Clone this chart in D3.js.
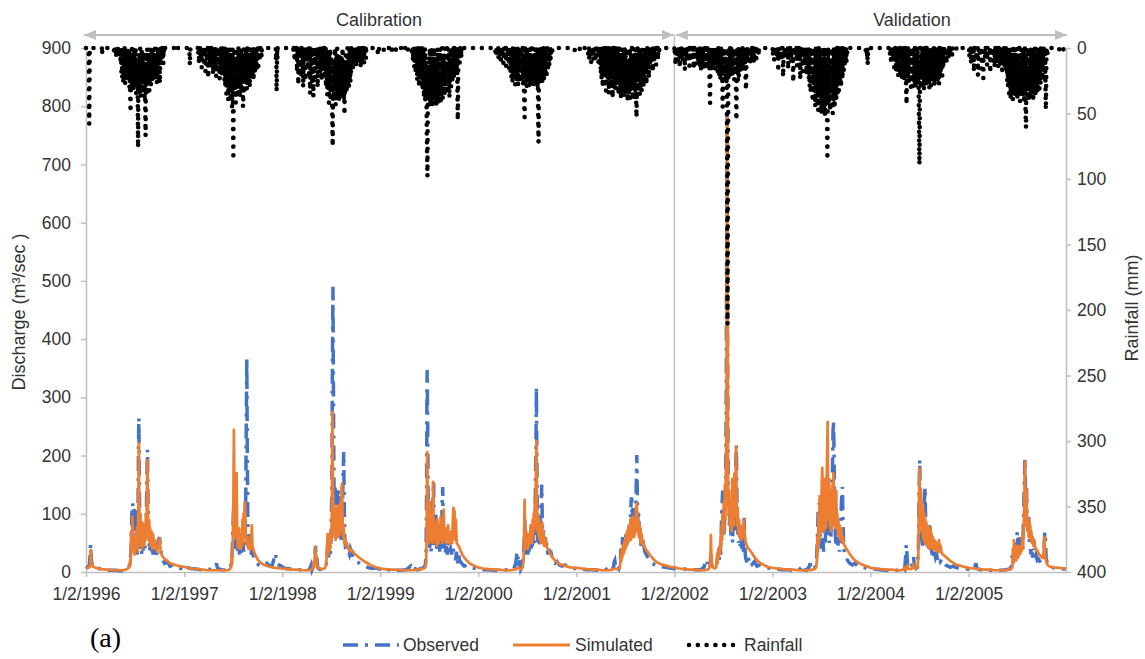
<!DOCTYPE html>
<html><head><meta charset="utf-8">
<script src="https://cdn.jsdelivr.net/npm/d3@7"></script>
<style>
body{margin:0;background:#fff;}
svg{display:block;font-family:"Liberation Sans",Arial,sans-serif;}
</style></head><body>
<svg id="c" width="1145" height="659"></svg>
<script>
// ---------- DATA ----------
const years = [1996,1997,1998,1999,2000,2001,2002,2003,2004,2005];
const xTickLabels = years.map(y => `1/2/${y}`);
const yLeftTicks = [0,100,200,300,400,500,600,700,800,900];
const yRightTicks = [0,50,100,150,200,250,300,350,400];
const periods = [["Calibration","1996-01-02","2002-01-02"],["Validation","2002-01-02","2005-12-31"]];
const legendItems = ["Observed","Simulated","Rainfall"];

// discharge, [day of year, m3/s]
const sim1996 = [[2,8],[10,7],[17,9],[20,38],[23,15],[28,9],[40,7],[60,5],[80,4],[100,3],[120,3],[140,3],[150,4],[158,6],[163,8],[166,20],[168,12],[170,70],[172,35],[175,95],[177,40],[180,60],[183,30],[186,50],[189,42],[192,78],[195,35],[197,120],[199,221],[201,90],[203,55],[205,100],[207,45],[209,70],[211,40],[213,85],[215,50],[217,65],[219,45],[221,80],[223,55],[225,100],[227,60],[229,140],[231,192],[233,80],[235,55],[237,90],[239,50],[241,75],[243,45],[246,70],[249,40],[252,65],[255,45],[258,55],[262,40],[266,35],[270,42],[274,55],[277,58],[280,35],[285,28],[292,24],[300,20],[310,17],[320,14],[335,12],[350,10],[365,9]];
const obs1996 = [[2,10],[8,8],[15,12],[19,48],[22,20],[27,10],[35,8],[50,6],[70,4],[90,3],[110,3],[130,2],[145,3],[155,5],[162,10],[166,15],[170,40],[173,100],[176,118],[178,60],[181,110],[184,70],[187,105],[190,40],[193,30],[196,120],[198,238],[199,265],[201,140],[203,40],[206,60],[209,30],[212,55],[215,35],[218,70],[221,40],[224,60],[227,100],[229,170],[231,210],[233,120],[236,60],[239,35],[242,50],[245,30],[248,45],[252,30],[256,40],[260,30],[264,25],[268,45],[272,55],[276,60],[279,45],[283,30],[288,20],[295,15],[305,18],[315,10],[325,12],[340,8],[355,6],[365,10]];
const sim1997 = [[1,9],[15,7],[30,6],[50,5],[70,4],[90,3],[110,3],[130,3],[150,3],[165,3],[172,5],[176,8],[179,30],[181,15],[183,60],[185,120],[187,244],[189,90],[191,60],[193,110],[195,60],[197,170],[199,70],[201,45],[203,60],[205,40],[207,75],[209,45],[211,55],[213,40],[215,65],[217,45],[219,90],[221,50],[223,100],[225,70],[227,120],[229,115],[231,60],[233,55],[236,45],[239,60],[242,40],[245,50],[248,38],[251,55],[254,80],[256,45],[259,40],[263,34],[268,28],[275,22],[285,16],[300,12],[320,9],[340,7],[365,6]];
const obs1997 = [[1,12],[10,8],[25,6],[45,5],[65,4],[85,4],[105,5],[118,8],[122,15],[126,6],[140,4],[160,3],[172,5],[176,12],[179,20],[182,50],[185,100],[188,120],[191,40],[194,110],[197,60],[200,35],[204,50],[208,30],[212,40],[216,30],[220,50],[224,35],[228,60],[231,120],[233,250],[235,367],[237,200],[239,80],[242,50],[245,35],[248,45],[251,30],[254,40],[258,30],[262,25],[266,20],[272,15],[280,12],[290,10],[300,12],[310,15],[320,10],[330,12],[338,25],[342,32],[346,15],[355,12],[365,10]];
const sim1998 = [[1,6],[20,5],[40,4],[60,4],[80,3],[100,3],[110,4],[115,6],[118,15],[120,8],[123,25],[125,43],[127,20],[129,30],[131,12],[135,8],[140,6],[150,5],[160,6],[166,12],[169,40],[171,65],[173,30],[175,60],[177,35],[179,65],[181,40],[183,70],[185,55],[187,110],[189,275],[191,150],[193,70],[195,115],[197,60],[199,100],[201,55],[203,110],[205,70],[207,105],[209,60],[211,115],[213,75],[215,100],[217,65],[219,120],[221,80],[223,145],[225,152],[227,90],[229,60],[231,80],[233,50],[236,60],[239,45],[243,50],[247,40],[251,42],[255,35],[260,38],[275,30],[290,24],[305,19],[320,15],[335,11],[350,8],[365,6]];
const obs1998 = [[1,8],[15,6],[35,5],[55,4],[75,4],[95,3],[105,6],[110,12],[113,4],[118,10],[121,5],[124,30],[126,45],[128,15],[131,25],[134,8],[140,5],[155,4],[165,8],[169,30],[172,55],[175,25],[178,45],[181,30],[184,60],[187,150],[189,350],[191,490],[193,300],[195,140],[197,120],[199,145],[201,110],[203,140],[205,130],[207,145],[209,120],[211,140],[213,90],[215,130],[217,60],[219,110],[221,50],[223,70],[226,100],[229,170],[231,206],[233,120],[235,60],[238,40],[241,35],[244,45],[248,35],[252,30],[256,40],[260,35],[265,25],[272,22],[280,18],[290,15],[300,12],[310,10],[320,8],[335,6],[350,7],[365,5]];
const sim1999 = [[1,6],[20,5],[40,4],[60,4],[80,3],[100,3],[120,3],[140,4],[155,5],[165,6],[170,8],[173,15],[175,60],[177,206],[179,120],[181,60],[183,90],[185,50],[187,120],[189,60],[191,100],[193,55],[195,85],[197,50],[199,155],[201,70],[203,90],[205,55],[207,80],[209,50],[211,75],[213,45],[215,90],[217,55],[219,70],[221,50],[223,80],[225,55],[227,95],[229,60],[231,75],[233,50],[235,85],[237,55],[239,107],[241,60],[243,70],[246,50],[249,75],[252,55],[255,80],[258,50],[261,60],[264,48],[267,70],[270,50],[273,95],[275,110],[277,60],[279,105],[281,55],[284,90],[287,50],[290,48],[293,45],[297,42],[302,36],[310,28],[320,22],[335,15],[350,11],[365,8]];
const obs1999 = [[1,6],[20,4],[40,4],[60,3],[80,3],[100,4],[115,10],[118,4],[130,3],[140,12],[143,4],[155,6],[165,8],[170,12],[173,30],[175,150],[176,300],[177,347],[179,250],[181,100],[183,60],[186,40],[189,60],[192,35],[195,50],[198,120],[201,155],[203,80],[206,45],[209,100],[212,40],[215,60],[218,35],[221,50],[224,35],[227,60],[230,40],[233,120],[235,146],[237,70],[240,40],[243,55],[246,30],[249,45],[252,30],[256,50],[260,35],[264,40],[268,30],[272,45],[276,35],[280,30],[283,20],[286,35],[290,15],[294,30],[298,20],[305,15],[315,10],[325,12],[340,8],[355,6],[365,5]];
const sim2000 = [[1,8],[20,6],[40,5],[60,4],[80,4],[100,3],[120,3],[135,4],[145,5],[150,8],[155,6],[162,5],[168,8],[171,20],[173,60],[175,124],[177,50],[179,40],[181,70],[183,45],[185,55],[187,40],[189,65],[191,45],[193,60],[195,50],[197,80],[199,55],[201,70],[203,50],[205,90],[207,60],[209,100],[211,70],[213,120],[215,80],[217,160],[219,225],[221,110],[223,70],[225,100],[227,60],[229,90],[231,55],[233,80],[235,50],[237,75],[239,55],[241,85],[243,50],[245,70],[247,45],[249,60],[252,45],[255,55],[258,42],[262,40],[266,36],[272,30],[280,24],[290,19],[300,15],[315,12],[330,10],[345,8],[366,7]];
const obs2000 = [[1,5],[20,4],[40,4],[60,3],[80,3],[100,4],[120,3],[135,6],[142,15],[146,30],[149,35],[152,10],[158,20],[161,5],[166,10],[170,25],[173,50],[176,90],[178,40],[181,30],[184,55],[187,30],[190,45],[193,35],[196,60],[199,40],[202,55],[205,40],[208,70],[211,50],[214,100],[217,200],[219,318],[221,180],[223,60],[226,45],[229,70],[232,45],[235,100],[237,120],[239,150],[241,80],[243,55],[246,72],[249,45],[252,60],[255,40],[258,50],[262,30],[266,40],[270,25],[275,30],[280,20],[288,15],[296,18],[305,12],[315,10],[325,12],[340,8],[355,6],[366,6]];
const sim2001 = [[1,7],[20,6],[40,5],[60,4],[80,4],[100,3],[120,3],[135,4],[145,6],[155,5],[162,6],[165,12],[167,30],[169,18],[171,40],[173,25],[175,45],[177,30],[179,50],[181,35],[183,55],[185,40],[187,65],[189,45],[191,70],[193,50],[195,75],[197,55],[199,80],[201,60],[203,90],[205,55],[207,85],[209,60],[211,95],[213,65],[215,80],[217,60],[219,90],[221,65],[223,100],[225,110],[227,118],[229,85],[231,70],[233,90],[235,60],[237,80],[239,55],[241,75],[243,50],[245,65],[247,48],[250,55],[253,45],[257,42],[262,38],[268,34],[275,30],[285,24],[295,19],[305,16],[320,13],[335,11],[350,9],[365,8]];
const obs2001 = [[1,6],[20,5],[40,4],[60,4],[80,3],[100,3],[115,5],[125,8],[135,12],[140,6],[143,18],[145,20],[148,8],[155,10],[160,6],[165,15],[168,40],[171,25],[174,60],[177,35],[180,55],[183,40],[186,65],[189,45],[192,70],[195,50],[198,85],[201,60],[204,100],[206,124],[208,128],[210,90],[213,110],[216,75],[219,95],[222,70],[225,150],[227,201],[229,130],[231,80],[234,100],[237,60],[240,75],[243,45],[246,60],[249,40],[253,45],[257,35],[262,30],[268,25],[275,20],[285,15],[295,12],[305,10],[320,9],[335,8],[350,7],[365,6]];
const sim2002 = [[1,8],[20,6],[40,5],[60,4],[80,4],[100,3],[115,3],[125,4],[132,6],[136,20],[138,64],[140,25],[143,10],[150,6],[158,8],[161,30],[163,15],[166,40],[168,25],[170,35],[172,30],[174,60],[176,40],[178,80],[180,55],[182,100],[184,65],[186,120],[188,70],[190,150],[192,90],[194,180],[196,250],[198,780],[200,500],[202,160],[204,100],[206,140],[208,80],[210,120],[212,75],[214,110],[216,70],[218,160],[220,100],[222,130],[224,80],[226,170],[228,110],[230,150],[232,215],[234,120],[236,80],[238,110],[240,65],[243,90],[246,60],[249,80],[252,55],[255,75],[258,60],[261,90],[263,70],[266,55],[270,48],[275,42],[282,38],[290,33],[300,26],[310,20],[320,16],[335,12],[350,9],[365,7]];
const obs2002 = [[1,7],[20,6],[40,5],[60,4],[80,4],[100,4],[112,8],[116,15],[120,10],[124,17],[128,6],[135,10],[138,30],[141,12],[150,6],[158,10],[162,20],[166,35],[169,20],[172,45],[175,30],[178,100],[180,118],[182,140],[184,80],[187,60],[190,100],[193,140],[195,280],[197,600],[198,790],[200,450],[202,200],[204,120],[207,80],[210,110],[213,60],[216,90],[219,50],[222,120],[225,70],[228,140],[231,190],[233,218],[235,130],[238,70],[241,50],[244,75],[247,45],[250,60],[253,40],[256,55],[259,35],[262,93],[264,50],[267,25],[270,20],[274,15],[278,25],[282,10],[290,12],[300,18],[310,10],[320,12],[335,8],[350,7],[365,6]];
const sim2003 = [[1,7],[20,6],[40,5],[60,4],[80,4],[100,3],[120,3],[140,3],[150,4],[160,5],[165,8],[168,20],[170,60],[172,35],[174,100],[176,50],[178,130],[180,60],[182,110],[184,70],[186,150],[188,179],[190,80],[192,140],[194,70],[196,160],[198,90],[200,130],[202,75],[204,150],[206,200],[208,258],[210,120],[212,90],[214,160],[216,80],[218,140],[220,70],[222,130],[224,85],[226,150],[228,80],[230,170],[232,90],[234,120],[236,75],[238,130],[240,140],[242,80],[244,100],[246,65],[248,90],[250,60],[253,80],[256,55],[259,75],[262,50],[265,60],[268,48],[272,45],[278,40],[285,35],[295,28],[305,22],[315,18],[330,14],[345,11],[365,8]];
const obs2003 = [[1,6],[20,5],[40,4],[60,4],[80,3],[100,3],[110,8],[114,12],[118,4],[130,3],[140,10],[143,15],[146,4],[155,5],[163,10],[167,25],[170,60],[173,110],[176,118],[178,90],[181,60],[184,40],[187,100],[190,60],[193,35],[196,80],[199,45],[202,100],[205,60],[208,140],[211,80],[214,50],[217,90],[220,60],[223,120],[226,180],[228,240],[230,260],[232,200],[234,100],[237,60],[240,45],[243,80],[246,40],[249,60],[252,35],[255,70],[258,100],[261,140],[263,146],[265,90],[268,40],[272,30],[276,25],[282,20],[290,15],[300,12],[310,15],[320,10],[335,8],[350,7],[365,6]];
const sim2004 = [[1,7],[20,6],[40,5],[60,4],[80,4],[100,3],[115,3],[125,4],[128,8],[131,5],[135,4],[140,12],[143,6],[150,5],[158,6],[162,14],[165,8],[170,6],[178,8],[181,30],[183,120],[185,178],[187,120],[189,80],[191,140],[193,70],[195,120],[197,60],[199,110],[201,55],[203,100],[205,50],[207,90],[209,50],[211,85],[213,45],[215,80],[217,45],[219,77],[221,40],[223,70],[225,45],[227,75],[229,40],[231,65],[233,42],[235,60],[237,40],[240,55],[243,38],[246,52],[249,36],[252,48],[255,34],[258,55],[261,35],[264,45],[268,32],[273,30],[280,27],[290,23],[300,19],[310,16],[320,13],[335,11],[350,9],[366,7]];
const obs2004 = [[1,6],[20,5],[40,4],[60,3],[80,3],[100,3],[115,4],[125,8],[130,5],[134,30],[136,47],[138,35],[141,10],[147,5],[155,8],[160,20],[163,26],[166,10],[172,6],[178,8],[181,40],[184,150],[186,193],[188,120],[191,80],[194,60],[197,40],[200,100],[203,120],[206,146],[208,90],[211,60],[214,45],[217,70],[220,40],[223,80],[226,35],[229,45],[232,30],[235,40],[238,25],[241,35],[245,25],[249,30],[253,20],[258,25],[263,18],[268,22],[275,15],[283,12],[292,10],[300,8],[310,10],[320,8],[335,6],[350,6],[366,5]];
const sim2005 = [[1,7],[20,6],[40,5],[60,4],[80,4],[100,3],[120,3],[140,3],[150,4],[160,5],[165,8],[167,40],[169,15],[171,55],[173,20],[175,45],[177,25],[180,20],[184,45],[187,25],[190,40],[193,30],[196,45],[199,35],[202,60],[205,40],[208,90],[210,130],[212,189],[214,120],[216,80],[218,141],[220,90],[222,70],[224,85],[226,60],[228,90],[230,65],[232,80],[234,55],[236,70],[238,50],[241,60],[244,45],[247,55],[250,42],[253,40],[256,38],[260,35],[265,30],[270,28],[275,25],[280,24],[285,60],[287,30],[290,20],[296,12],[305,9],[320,8],[340,7],[364,6]];
const obs2005 = [[1,6],[15,5],[25,8],[29,15],[33,6],[45,4],[60,4],[80,3],[100,3],[120,3],[140,4],[155,5],[162,10],[165,30],[168,15],[172,40],[175,20],[178,35],[181,60],[184,69],[186,45],[189,65],[192,30],[195,50],[198,35],[201,60],[204,40],[207,100],[210,160],[212,194],[214,150],[216,100],[218,144],[220,90],[223,70],[226,100],[229,50],[232,40],[235,30],[238,35],[241,25],[245,40],[249,25],[253,30],[258,20],[263,22],[268,18],[273,15],[278,20],[283,40],[286,69],[288,60],[291,25],[296,12],[305,9],[320,7],[340,6],[364,5]];

// rainfall: daily runs (mm) starting at a day of year; days not listed are 0 mm
const rain1996 = {year:1996, start:105, mm:[0,0,3,0,0,5,0,0,0,2,8,0,0,0,4,0,0,6,0,0,3,0,0,0,7,0,12,0,5,18,3,0,22,8,0,15,25,4,0,10,18,0,6,28,12,0,9,20,3,14,0,26,8,0,17,5,22,10,0,30,15,4,40,49,20,8,25,12,0,28,18,6,33,10,0,24,14,30,5,19,27,9,0,21,35,12,25,8,30,14,45,76,20,10,28,4,33,15,22,0,18,38,9,26,12,0,30,20,7,35,16,24,3,29,11,40,18,27,50,67,22,14,31,8,25,0,19,36,12,28,6,22,15,33,9,0,24,17,5,29,13,21,0,26,10,18,8,22,14,0,19,6,25,11,0,16,9,20,4,0,13,27,7,0,18,10,0,5,26,12,0,8,27,15,0,6,0,10,0,3,0,0,7,0,0,12,0,0,4,0,0]};
const rain1997 = {year:1997, start:53, mm:[0,5,0,0,12,0,0,3,0,0,0,9,0,0,15,4,0,0,0,7,0,0,11,0,0,2,0,0,18,6,0,0,0,10,0,0,4,0,23,14,0,0,6,0,0,13,0,0,8,0,0,16,0,5,0,0,20,9,0,0,12,0,3,0,17,0,0,8,22,0,0,5,14,0,0,19,7,0,0,10,0,24,6,0,0,15,0,9,0,21,0,4,0,0,18,11,0,6,14,25,0,8,30,12,0,20,35,5,16,0,28,10,22,40,6,0,18,33,14,26,0,9,38,20,5,30,12,45,24,0,15,60,82,30,8,22,36,11,0,27,16,42,7,19,31,0,13,25,10,34,18,0,24,8,29,15,38,4,20,12,33,0,22,9,27,17,6,30,45,40,14,0,26,11,35,7,19,0,28,13,23,4,32,16,0,21,10,29,5,18,25,0,12,30,8,15,0,20,9,0,22,14,0,6,18,0,11,25,0,4,15,0,20,8,0,0,12,5,0,17,0,0,9,0,3,14,0,0,6,0,0,10,0,0,4,0,0,7,0,0]};
const rain1998 = {year:1998, start:42, mm:[0,0,4,0,0,0,10,0,0,0,0,6,0,0,0,18,0,0,0,0,28,12,0,0,0,0,5,0,0,0,22,0,0,0,9,0,0,0,30,15,0,0,0,0,3,0,0,25,0,0,0,0,8,0,0,0,14,0,0,0,20,0,0,0,35,12,0,0,0,6,0,0,28,0,0,0,37,18,0,0,0,10,0,0,4,22,0,0,0,15,0,0,30,8,0,0,0,5,0,12,0,0,19,0,0,0,9,25,0,0,6,0,0,16,0,11,0,0,20,8,22,14,0,30,18,5,26,12,36,0,20,9,33,16,42,4,24,28,11,0,38,19,7,30,14,25,45,60,75,35,10,22,40,8,29,15,34,0,21,44,12,27,6,32,18,0,25,37,13,9,30,20,41,5,16,28,11,35,22,14,30,7,26,38,12,0,24,19,33,8,40,28,51,18,10,36,22,5,29,15,34,9,27,0,20,31,13,24,6,30,17,0,22,11,26,8,19,0,14,0,12,5,0,15,0,8,0,0,13,0,4,0,10,0,0,14,6,0,0,9,0,12,0,0,3,0,11,0,0,7,0,0,15,0,0,5,0,0,9,0,0,0,6,0,0,12,0,0,0,4,0,0,8,0,0,0]};
const rain1999 = {year:1999, start:120, mm:[0,4,0,0,10,0,0,6,0,15,0,0,8,0,20,3,0,0,12,0,25,0,7,0,18,0,0,30,10,0,5,22,0,14,0,28,8,0,19,0,33,12,0,26,15,38,6,20,30,0,42,18,9,35,24,50,70,85,98,60,28,14,40,22,8,33,16,0,27,45,19,36,11,25,0,30,44,13,21,38,7,29,42,16,33,0,24,40,10,35,20,45,14,28,6,38,22,0,31,17,43,9,26,36,12,0,30,19,41,8,25,34,15,0,28,39,11,22,32,5,27,18,37,0,24,13,35,20,9,30,16,0,26,12,33,7,21,0,28,15,38,4,19,25,0,13,30,9,22,0,17,27,6,14,0,20,10,24,0,8,18,0,12,5,16,0,9,20,0,14,35,55,40,10,0,6,0,0,12,0,0,5,0,0,8,0,3]};
const rain2000 = {year:2000, start:64, mm:[0,0,3,0,0,0,6,0,0,0,0,2,0,0,8,0,0,0,0,4,0,0,0,10,0,0,0,5,0,0,0,0,12,0,0,3,0,0,0,7,0,0,14,0,0,0,5,0,0,9,0,0,0,16,0,4,0,10,0,18,5,0,22,8,0,14,26,0,3,19,11,0,24,6,0,16,28,9,0,21,13,0,7,25,17,0,11,29,4,0,20,15,0,27,8,12,0,23,18,5,0,26,10,19,0,14,30,6,22,35,45,53,28,0,17,25,9,0,20,30,12,0,26,15,8,24,0,18,29,5,21,13,0,27,10,19,0,25,16,6,28,0,12,22,30,9,0,24,14,20,0,27,8,18,26,0,13,23,11,29,0,40,60,72,35,15,0,22,10,28,0,16,24,5,0,19,12,26,0,8,21,14,0,25,6,17,0,11,20,0,9,15,0,23,4,0,13,0,18,7,0,10,0,14,0,5,0,0,9,0,0,6,0,0,3,0,0]};
const rain2001 = {year:2001, start:44, mm:[0,0,5,0,0,0,8,0,0,0,3,0,0,11,0,0,0,0,6,0,0,0,9,0,0,2,0,0,0,10,0,0,0,4,0,0,0,7,0,0,11,0,0,0,5,0,0,12,0,20,6,0,25,14,0,9,30,0,18,4,0,22,11,0,27,8,0,16,33,0,13,24,0,7,19,0,28,15,0,35,10,0,21,5,26,0,17,30,0,12,23,8,0,38,14,0,20,29,6,0,24,11,32,0,18,9,26,0,21,34,13,0,27,8,19,36,0,15,25,5,30,18,0,22,39,10,26,0,14,33,20,7,28,0,17,37,11,24,0,29,16,6,35,21,0,12,31,25,8,41,30,0,23,15,34,9,27,0,19,38,13,24,5,32,18,0,26,14,36,10,22,0,29,17,40,8,25,33,0,15,28,45,53,30,12,20,0,24,9,31,16,0,27,13,35,6,21,0,29,18,8,33,0,14,25,10,0,22,30,5,17,0,26,12,0,20,8,0,15,28,0,11,0,19,6,0,14,0,23,0,9,0,0,16,0,5,0,12,0,0,8,0,0,18,0,0,4,0,10,0,0,0,6,0,0,13,0,0,0,3,0,0,9,0,0,0,5,0,0]};
const rain2002 = {year:2002, start:2, mm:[0,5,0,0,13,8,0,0,0,3,0,0,10,0,0,0,6,0,0,0,15,0,0,4,0,0,0,9,0,0,0,0,12,0,0,3,0,0,0,17,5,0,0,0,0,8,0,0,0,11,0,0,0,2,0,0,14,0,0,0,6,0,0,0,0,10,0,0,0,4,0,0,16,0,0,0,0,7,0,0,12,0,0,0,3,0,0,0,9,0,0,14,0,0,8,0,14,5,0,17,10,0,3,12,0,16,6,0,11,15,0,4,13,0,9,17,2,0,14,7,0,12,16,0,5,11,0,15,8,0,10,25,35,42,20,6,0,13,17,0,9,14,0,4,16,11,0,7,15,0,12,3,0,17,8,0,13,10,0,14,6,0,19,11,0,16,8,22,4,13,0,18,25,9,0,15,21,7,12,30,45,20,0,16,10,24,5,0,19,13,8,22,0,17,28,11,60,130,211,150,70,25,9,0,18,12,20,6,0,15,23,10,0,19,7,14,0,21,11,5,17,0,13,24,8,0,16,10,0,20,38,55,30,12,0,18,9,25,14,0,21,7,16,0,11,19,0,6,13,0,17,8,0,12,0,15,4,0,10,14,0,6,0,11,0,20,28,32,18,0,8,0,12,0,5,0,0,9,0,0,7,0,0,13,0,0,4,0,0,8,0,0,0,5,0,0,11,0,0,0,3,0,0,0,9,11,0,0,0,4,0,0,0,0,6,0,0]};
const rain2003 = {year:2003, start:2, mm:[0,0,6,0,0,0,0,12,0,0,0,3,0,0,0,0,0,8,0,0,0,0,18,0,0,0,0,0,5,0,0,0,0,0,0,10,0,0,0,0,22,14,0,0,0,0,0,3,0,0,0,0,0,7,0,0,0,0,0,16,0,0,0,0,0,4,0,0,0,0,0,11,0,0,0,0,0,20,26,8,0,0,0,0,0,0,5,0,0,0,0,0,14,0,0,0,0,0,9,0,0,0,0,0,24,0,0,0,0,6,0,0,0,0,18,0,0,0,3,0,0,0,12,0,0,0,0,20,0,0,8,0,0,0,15,0,24,8,0,30,12,0,19,35,6,0,26,14,0,22,41,33,9,0,28,16,38,0,11,24,45,7,0,31,19,40,13,0,27,36,8,48,22,0,34,15,42,26,5,39,18,0,30,50,12,25,44,0,20,37,9,46,28,0,33,17,52,11,29,40,0,24,38,14,60,82,45,19,0,26,43,10,35,21,0,48,30,15,38,7,27,44,18,0,32,50,12,24,40,0,29,16,46,22,9,36,0,25,41,13,31,0,20,37,8,28,0,17,33,10,22,0,26,14,0,19,30,5,0,16,0,24,8,0,12,0,20,0,6,0,14,0,0,9,0,0,11,0,0,4]};
const rain2004 = {year:2004, start:73, mm:[0,0,5,0,0,0,12,0,0,3,0,0,0,8,0,0,0,0,15,0,0,6,0,0,0,18,0,0,10,0,0,0,0,22,4,0,0,0,13,0,0,19,0,0,7,0,0,25,10,0,16,0,22,8,0,14,26,0,5,19,0,12,28,35,43,20,0,9,24,15,0,18,6,0,27,11,0,21,13,0,30,7,0,17,24,0,10,29,4,0,20,14,0,26,9,0,18,31,12,0,23,6,0,28,15,0,19,25,8,30,50,70,89,55,20,0,27,14,31,6,0,22,18,0,29,10,24,0,16,32,5,0,20,27,12,0,25,8,30,0,14,22,0,28,11,19,0,26,6,31,0,17,24,0,13,29,9,0,21,15,0,27,7,0,18,25,0,12,30,0,16,23,0,9,26,0,14,20,0,5,24,0,17,0,11,28,0,8,19,0,13,0,22,0,6,0,18,21,10,0,0,15,0,4,0,0,12,0,0,7,0,0,0,10,0,0,3,0,0,0,8,0,0,0,0,5,0,0,0,2,0,0,0,0,6,0]};
const rain2005 = {year:2005, start:2, mm:[0,0,0,7,0,0,0,0,0,12,0,0,0,0,3,0,0,0,0,0,18,6,0,0,0,0,0,0,9,0,0,0,0,0,0,21,14,0,0,0,0,0,4,0,0,0,0,0,16,0,0,0,0,0,0,23,0,0,0,0,0,8,0,0,0,0,0,0,0,13,0,0,0,0,0,5,0,0,0,0,0,19,0,0,0,0,0,0,0,0,10,0,0,0,6,0,0,15,0,0,0,3,0,0,12,0,0,0,8,0,0,17,0,0,0,5,0,0,14,0,0,0,9,0,0,20,0,0,4,0,0,11,0,0,16,0,0,0,7,0,18,0,0,12,25,0,8,30,14,0,20,35,6,18,0,27,11,38,0,22,9,32,16,0,25,40,13,0,29,7,34,19,0,24,37,10,28,0,15,33,21,5,39,17,0,26,12,36,8,0,30,20,41,14,0,27,35,9,23,0,18,38,11,29,0,32,16,42,7,25,0,34,45,55,61,30,12,0,27,19,36,8,0,28,40,14,22,0,33,10,26,38,0,17,30,6,24,35,0,13,29,41,9,0,21,32,16,0,27,37,11,0,24,30,5,19,0,34,15,0,26,9,20,0,31,12,0,17,28,0,8,22,0,14,0,25,10,0,6,0,0,5,0,0,3,0,20,35,47,30,8,0,0,0,4]};
// isolated rain days [year, day of year, mm]
const rainSingles = [[1996,13,20],[1996,14,58],[1996,15,30],[1996,62,5],[1996,337,2],[1997,22,6],[1997,23,13],[1997,24,4],[1997,344,10],[1997,346,33],[1997,347,22],[1997,349,8],[1998,358,3],[1998,362,2],[1999,15,2],[1999,30,1],[1999,45,3],[1999,60,2],[1999,75,1],[1999,90,2],[1999,105,3],[2000,362,2],[2001,15,2],[2003,350,2],[2003,355,8],[2003,357,13],[2003,358,6],[2004,322,2],[2004,340,1],[2005,340,1],[2005,355,2]];

// ---------- BUILD ----------
const obsYears = [obs1996,obs1997,obs1998,obs1999,obs2000,obs2001,obs2002,obs2003,obs2004,obs2005];
const simYears = [sim1996,sim1997,sim1998,sim1999,sim2000,sim2001,sim2002,sim2003,sim2004,sim2005];
const rainRuns = [rain1996,rain1997,rain1998,rain1999,rain2000,rain2001,rain2002,rain2003,rain2004,rain2005];

const t0 = new Date(1996,0,2), t1 = new Date(2005,11,31);
const dayOf = (y, doy) => d3.timeDay.offset(new Date(y,0,1), doy-1);
function build(list){
  const out=[];
  list.forEach((arr,i)=>arr.forEach(([doy,v])=>{const d=dayOf(years[i],doy); if(d>=t0&&d<=t1) out.push({d,v});}));
  return out.sort((a,b)=>a.d-b.d);
}
const obs = build(obsYears), sim = build(simYears);
const rainMap = new Map(d3.timeDay.range(t0, d3.timeDay.offset(t1,1)).map(d=>[+d,0]));
rainRuns.forEach(r=>r.mm.forEach((v,i)=>{const k=+dayOf(r.year,r.start+i); if(rainMap.has(k)) rainMap.set(k,v);}));
rainSingles.forEach(([y,doy,v])=>{const k=+dayOf(y,doy); if(rainMap.has(k)) rainMap.set(k,v);});
const rain = Array.from(rainMap, ([k,v])=>({d:new Date(k),v}));

// ---------- DRAW ----------
const svg = d3.select("#c");
const L=86, R=1066, T=48, B=572;
const x = d3.scaleTime().domain([t0,t1]).range([L,R]);
const yL = d3.scaleLinear().domain([0,900]).range([B,T]);
const yR = d3.scaleLinear().domain([0,400]).range([T,B]);
const grey="#bfbfbf", txt="#333";
const fs=17.5;

// axes
const ax = svg.append("g").attr("transform",`translate(${L},0)`)
  .call(d3.axisLeft(yL).tickValues(yLeftTicks).tickSize(5).tickSizeOuter(0).tickPadding(10));
const ar = svg.append("g").attr("transform",`translate(${R},0)`)
  .call(d3.axisRight(yR).tickValues(yRightTicks).tickSize(5).tickSizeOuter(0).tickPadding(6));
const xTicks = years.map(y=>new Date(y,0,2));
const abx = svg.append("g").attr("transform",`translate(0,${B})`)
  .call(d3.axisBottom(x).tickValues(xTicks).tickFormat((d,i)=>xTickLabels[i]).tickSize(5).tickSizeOuter(0).tickPadding(11));
[ax,ar,abx].forEach(g=>{
  g.selectAll("path,line").attr("stroke",grey).attr("stroke-width",1.5);
  g.selectAll("text").attr("fill",txt).style("font-size",fs+"px").style("font-family",'"Liberation Sans",Arial,sans-serif');
});

// period divider & arrows
const xDiv = x(new Date(2002,0,2));
svg.append("line").attr("x1",xDiv).attr("x2",xDiv).attr("y1",35).attr("y2",B).attr("stroke",grey).attr("stroke-width",1.5);
const defs = svg.append("defs");
defs.append("marker").attr("id","ah").attr("viewBox","0 0 12 10").attr("refX",12).attr("refY",5)
  .attr("markerWidth",12).attr("markerHeight",10).attr("markerUnits","userSpaceOnUse").attr("orient","auto-start-reverse")
  .append("path").attr("d","M0,0L12,5L0,10Z").attr("fill",grey);
const arrowY=35;
const ranges=[[L-2, xDiv-0.5],[xDiv+1.5, R+1]];
periods.forEach((p,i)=>{
  svg.append("line").attr("x1",ranges[i][0]).attr("x2",ranges[i][1]).attr("y1",arrowY).attr("y2",arrowY)
    .attr("stroke",grey).attr("stroke-width",2).attr("marker-start","url(#ah)").attr("marker-end","url(#ah)");
});
const labelX=[379, 912];
periods.forEach((p,i)=>svg.append("text").attr("x",labelX[i]).attr("y",26).attr("text-anchor","middle")
  .attr("fill",txt).style("font-size","18px").text(p[0]));

// series
const lineL = d3.line().x(d=>x(d.d)).y(d=>yL(d.v));
const lineR = d3.line().x(d=>x(d.d)).y(d=>yR(d.v));
const cObs="#4472C4", cSim="#ED7D31";
const obsDash="15 7 3 7";
svg.append("path").datum(obs).attr("d",lineL).attr("fill","none").attr("stroke",cObs).attr("stroke-width",3.5).attr("stroke-dasharray",obsDash);
svg.append("path").datum(sim).attr("d",lineL).attr("fill","none").attr("stroke",cSim).attr("stroke-width",2.7).attr("stroke-linejoin","round");
svg.append("path").datum(rain).attr("d",lineR).attr("fill","none").attr("stroke","#000").attr("stroke-width",4.6)
  .attr("stroke-linecap","round").attr("stroke-dasharray","0 8.8");

// axis titles
svg.append("text").attr("transform","translate(25,312) rotate(-90)").attr("text-anchor","middle").attr("fill",txt)
  .style("font-size","18px").text("Discharge (m³/sec )");
svg.append("text").attr("transform","translate(1138,308) rotate(-90)").attr("text-anchor","middle").attr("fill",txt)
  .style("font-size","18px").text("Rainfall (mm)");

// legend
const ly=645;
svg.append("line").attr("x1",343).attr("x2",399).attr("y1",ly).attr("y2",ly).attr("stroke",cObs).attr("stroke-width",3.5).attr("stroke-dasharray",obsDash);
svg.append("line").attr("x1",513).attr("x2",570).attr("y1",ly).attr("y2",ly).attr("stroke",cSim).attr("stroke-width",3);
svg.append("line").attr("x1",689).attr("x2",738).attr("y1",ly).attr("y2",ly).attr("stroke","#000").attr("stroke-width",4.6).attr("stroke-linecap","round").attr("stroke-dasharray","0 8.8");
[[403,legendItems[0]],[575,legendItems[1]],[744,legendItems[2]]].forEach(([lx,t])=>
  svg.append("text").attr("x",lx).attr("y",ly+6).attr("fill",txt).style("font-size",fs+"px").text(t));

// panel label
svg.append("text").attr("x",90).attr("y",647).style("font-family",'"Liberation Serif","Times New Roman",serif')
  .style("font-size","28px").attr("fill","#000").text("(a)");
</script></body></html>
